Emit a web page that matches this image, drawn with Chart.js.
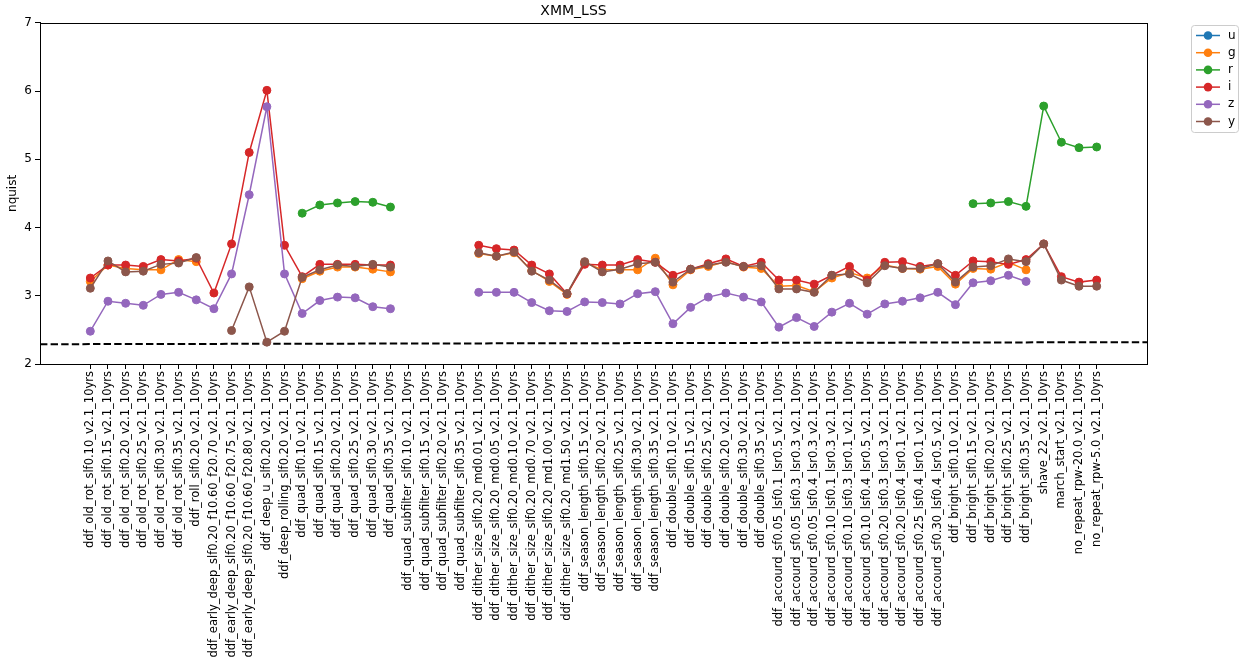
<!DOCTYPE html>
<html>
<head>
<meta charset="utf-8">
<script src="https://cdn.jsdelivr.net/npm/chart.js@4/dist/chart.umd.min.js"></script>
<style>
  html, body { margin: 0; padding: 0; background: #fff; }
  canvas { display: block; }
</style>
</head>
<body>
<canvas id="nquistChart" width="1241" height="662"></canvas>
<script>
// Run names along the x axis
const runNames = [
  "ddf_old_rot_slf0.10_v2.1_10yrs", "ddf_old_rot_slf0.15_v2.1_10yrs", "ddf_old_rot_slf0.20_v2.1_10yrs",
  "ddf_old_rot_slf0.25_v2.1_10yrs", "ddf_old_rot_slf0.30_v2.1_10yrs", "ddf_old_rot_slf0.35_v2.1_10yrs",
  "ddf_roll_slf0.20_v2.1_10yrs",
  "ddf_early_deep_slf0.20_f10.60_f20.70_v2.1_10yrs", "ddf_early_deep_slf0.20_f10.60_f20.75_v2.1_10yrs",
  "ddf_early_deep_slf0.20_f10.60_f20.80_v2.1_10yrs",
  "ddf_deep_u_slf0.20_v2.1_10yrs", "ddf_deep_rolling_slf0.20_v2.1_10yrs",
  "ddf_quad_slf0.10_v2.1_10yrs", "ddf_quad_slf0.15_v2.1_10yrs", "ddf_quad_slf0.20_v2.1_10yrs",
  "ddf_quad_slf0.25_v2.1_10yrs", "ddf_quad_slf0.30_v2.1_10yrs", "ddf_quad_slf0.35_v2.1_10yrs",
  "ddf_quad_subfilter_slf0.10_v2.1_10yrs", "ddf_quad_subfilter_slf0.15_v2.1_10yrs",
  "ddf_quad_subfilter_slf0.20_v2.1_10yrs", "ddf_quad_subfilter_slf0.35_v2.1_10yrs",
  "ddf_dither_size_slf0.20_md0.01_v2.1_10yrs", "ddf_dither_size_slf0.20_md0.05_v2.1_10yrs",
  "ddf_dither_size_slf0.20_md0.10_v2.1_10yrs", "ddf_dither_size_slf0.20_md0.70_v2.1_10yrs",
  "ddf_dither_size_slf0.20_md1.00_v2.1_10yrs", "ddf_dither_size_slf0.20_md1.50_v2.1_10yrs",
  "ddf_season_length_slf0.15_v2.1_10yrs", "ddf_season_length_slf0.20_v2.1_10yrs",
  "ddf_season_length_slf0.25_v2.1_10yrs", "ddf_season_length_slf0.30_v2.1_10yrs",
  "ddf_season_length_slf0.35_v2.1_10yrs",
  "ddf_double_slf0.10_v2.1_10yrs", "ddf_double_slf0.15_v2.1_10yrs", "ddf_double_slf0.25_v2.1_10yrs",
  "ddf_double_slf0.20_v2.1_10yrs", "ddf_double_slf0.30_v2.1_10yrs", "ddf_double_slf0.35_v2.1_10yrs",
  "ddf_accourd_sf0.05_lsf0.1_lsr0.5_v2.1_10yrs", "ddf_accourd_sf0.05_lsf0.3_lsr0.3_v2.1_10yrs",
  "ddf_accourd_sf0.05_lsf0.4_lsr0.3_v2.1_10yrs", "ddf_accourd_sf0.10_lsf0.1_lsr0.3_v2.1_10yrs",
  "ddf_accourd_sf0.10_lsf0.3_lsr0.1_v2.1_10yrs", "ddf_accourd_sf0.10_lsf0.4_lsr0.5_v2.1_10yrs",
  "ddf_accourd_sf0.20_lsf0.3_lsr0.3_v2.1_10yrs", "ddf_accourd_sf0.20_lsf0.4_lsr0.1_v2.1_10yrs",
  "ddf_accourd_sf0.25_lsf0.4_lsr0.1_v2.1_10yrs", "ddf_accourd_sf0.30_lsf0.4_lsr0.5_v2.1_10yrs",
  "ddf_bright_slf0.10_v2.1_10yrs", "ddf_bright_slf0.15_v2.1_10yrs", "ddf_bright_slf0.20_v2.1_10yrs",
  "ddf_bright_slf0.25_v2.1_10yrs", "ddf_bright_slf0.35_v2.1_10yrs",
  "shave_22_v2.1_10yrs", "march_start_v2.1_10yrs",
  "no_repeat_rpw-20.0_v2.1_10yrs", "no_repeat_rpw-5.0_v2.1_10yrs"
];

const _ = null;

// nquist per filter (null = no value for that run)
const uVals = runNames.map(() => null);
const gVals = [
  3.21, 3.45, 3.40, 3.38, 3.38, 3.53, 3.50, _, _, _, _, _,
  3.25, 3.36, 3.42, 3.42, 3.39, 3.35, _, _, _, _,
  3.62, 3.58, 3.63, 3.37, 3.21, 3.02,
  3.49, 3.38, 3.38, 3.38, 3.55,
  3.16, 3.38, 3.43, 3.50, 3.42, 3.40,
  3.14, 3.15, 3.06, 3.26, 3.34, 3.26, 3.45, 3.40, 3.39, 3.43,
  3.17, 3.40, 3.39, 3.49, 3.38,
  _, _, _, _
];
const rVals = [
  _, _, _, _, _, _, _, _, _, _, _, _,
  4.21, 4.33, 4.36, 4.38, 4.37, 4.30, _, _, _, _,
  _, _, _, _, _, _,
  _, _, _, _, _,
  _, _, _, _, _, _,
  _, _, _, _, _, _, _, _, _, _,
  _, 4.35, 4.36, 4.38, 4.31,
  5.78, 5.25, 5.17, 5.18
];
const iVals = [
  3.26, 3.45, 3.45, 3.43, 3.53, 3.51, 3.55, 3.04, 3.76, 5.10, 6.01, 3.74,
  3.28, 3.46, 3.46, 3.46, 3.45, 3.45, _, _, _, _,
  3.74, 3.69, 3.67, 3.45, 3.32, 3.03,
  3.46, 3.45, 3.45, 3.53, 3.49,
  3.30, 3.39, 3.47, 3.54, 3.43, 3.49,
  3.23, 3.23, 3.17, 3.30, 3.43, 3.23, 3.49, 3.50, 3.43, 3.47,
  3.30, 3.51, 3.50, 3.46, 3.53,
  3.76, 3.28, 3.20, 3.23
];
const zVals = [
  2.48, 2.92, 2.89, 2.86, 3.02, 3.05, 2.94, 2.81, 3.32, 4.48, 5.77, 3.32,
  2.74, 2.93, 2.98, 2.97, 2.84, 2.81, _, _, _, _,
  3.05, 3.05, 3.05, 2.90, 2.78, 2.77,
  2.91, 2.90, 2.88, 3.03, 3.06,
  2.59, 2.83, 2.98, 3.04, 2.98, 2.91,
  2.54, 2.68, 2.55, 2.76, 2.89, 2.73, 2.88, 2.92, 2.97, 3.05,
  2.87, 3.19, 3.22, 3.30, 3.21,
  _, _, _, _
];
const yVals = [
  3.11, 3.51, 3.35, 3.36, 3.46, 3.48, 3.56, _, 2.49, 3.13, 2.32, 2.48,
  3.27, 3.38, 3.45, 3.43, 3.46, 3.42, _, _, _, _,
  3.63, 3.58, 3.64, 3.36, 3.23, 3.03,
  3.50, 3.35, 3.39, 3.47, 3.49,
  3.20, 3.39, 3.45, 3.49, 3.43, 3.44,
  3.10, 3.10, 3.05, 3.30, 3.32, 3.19, 3.44, 3.40, 3.40, 3.47,
  3.20, 3.42, 3.44, 3.54, 3.50,
  3.76, 3.23, 3.14, 3.14
];

// dashed reference line, ends at the x-axis limits
const refX = [-2.85, 59.85];
const refY = [2.29, 2.32];

const xMin = -2.85, xMax = 59.85;
const yTicks = [2, 3, 4, 5, 6, 7];

const FONT = "'DejaVu Sans', sans-serif";

const filters = [
  { label: "u", vals: uVals, color: "#1f77b4" },
  { label: "g", vals: gVals, color: "#ff7f0e" },
  { label: "r", vals: rVals, color: "#2ca02c" },
  { label: "i", vals: iVals, color: "#d62728" },
  { label: "z", vals: zVals, color: "#9467bd" },
  { label: "y", vals: yVals, color: "#8c564b" },
];

const datasets = filters.map((f, k) => ({
  label: f.label,
  data: f.vals.map((v, idx) => ({ x: idx, y: v })),
  borderColor: f.color,
  backgroundColor: f.color,
  borderWidth: 1.5,
  pointRadius: 4,
  pointHoverRadius: 4,
  pointBorderWidth: 1,
  pointBackgroundColor: f.color,
  pointBorderColor: f.color,
  tension: 0,
  spanGaps: false,
  order: filters.length - k, // later filters on top, like matplotlib
}));

datasets.push({
  label: "_ref",
  data: refX.map((x, k) => ({ x, y: refY[k] })),
  borderColor: "#000",
  borderWidth: 2,
  borderDash: [7.4, 3.2],
  pointRadius: 0,
  order: 10,
});

// frame around the axes + matplotlib style legend box
const frameAndLegend = {
  id: "frameAndLegend",
  afterDraw(chart) {
    const { ctx, chartArea: a } = chart;
    ctx.save();
    ctx.strokeStyle = "#000";
    ctx.lineWidth = 1;
    ctx.strokeRect(Math.round(a.left) + 0.5, Math.round(a.top) + 0.5,
      Math.round(a.right - a.left), Math.round(a.bottom - a.top));

    const bx = 1191.5, by = 25.5, bw = 47, bh = 107;
    ctx.beginPath();
    ctx.roundRect(bx, by, bw, bh, 3);
    ctx.fillStyle = "rgba(255,255,255,0.8)";
    ctx.fill();
    ctx.strokeStyle = "#cccccc";
    ctx.stroke();

    ctx.font = "12px " + FONT;
    ctx.textBaseline = "middle";
    ctx.textAlign = "left";
    filters.forEach((f, k) => {
      const ly = 35.5 + k * 17.2;
      ctx.strokeStyle = f.color;
      ctx.lineWidth = 1.5;
      ctx.beginPath();
      ctx.moveTo(1196, ly);
      ctx.lineTo(1220, ly);
      ctx.stroke();
      ctx.fillStyle = f.color;
      ctx.beginPath();
      ctx.arc(1208, ly, 4.3, 0, Math.PI * 2);
      ctx.fill();
      ctx.fillStyle = "#000";
      ctx.fillText(f.label, 1228, ly);
    });
    ctx.restore();
  },
};

new Chart(document.getElementById("nquistChart"), {
  type: "line",
  data: { datasets },
  options: {
    responsive: false,
    animation: false,
    layout: { padding: { right: 94, left: 0, top: 0, bottom: 0 } },
    plugins: {
      legend: { display: false },
      tooltip: { enabled: false },
      title: {
        display: true,
        text: "XMM_LSS",
        color: "#000",
        font: { family: FONT, size: 14, weight: "normal" },
        padding: { top: 3, bottom: 3 },
      },
    },
    scales: {
      x: {
        type: "linear",
        min: xMin,
        max: xMax,
        grid: { drawOnChartArea: false, tickLength: 5, color: "#000" },
        border: { color: "#000" },
        afterBuildTicks: axis => {
          axis.ticks = runNames.map((_n, k) => ({ value: k }));
        },
        afterFit: axis => { axis.height = 662 - 364; },
        ticks: {
          autoSkip: false,
          minRotation: 90,
          maxRotation: 90,
          padding: 2,
          color: "#000",
          font: { family: FONT, size: 11.5 },
          callback: v => runNames[v] ?? "",
        },
      },
      y: {
        min: 2,
        max: 7,
        afterBuildTicks: axis => {
          axis.ticks = yTicks.map(v => ({ value: v }));
        },
        afterFit: axis => { axis.width = 40; },
        grid: { drawOnChartArea: false, tickLength: 5, color: "#000" },
        border: { color: "#000" },
        ticks: {
          padding: 3,
          color: "#000",
          font: { family: FONT, size: 12 },
        },
        title: {
          display: true,
          text: "nquist",
          color: "#000",
          font: { family: FONT, size: 12 },
          padding: { top: 6, bottom: 0 },
        },
      },
    },
  },
  plugins: [frameAndLegend],
});
</script>
</body>
</html>
